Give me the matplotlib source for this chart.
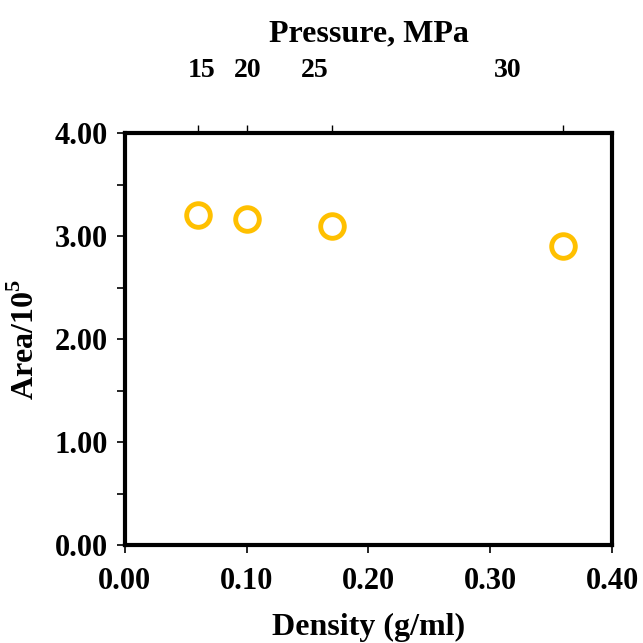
import matplotlib.pyplot as plt

plt.rcParams['font.family'] = ['Liberation Serif', 'DejaVu Serif']
plt.rcParams['font.weight'] = 'bold'
plt.rcParams['mathtext.fontset'] = 'custom'
plt.rcParams['mathtext.bf'] = 'Liberation Serif:bold'
plt.rcParams['mathtext.rm'] = 'Liberation Serif:bold'

# data
density = [0.06, 0.10, 0.17, 0.36]
area = [3.21, 3.17, 3.10, 2.90]
pressure_labels = ['15', '20', '25', '30']
# where the pressure labels sit (Excel put them a bit off the tick marks)
pressure_label_pos = [0.063, 0.101, 0.156, 0.314]

fig = plt.figure(figsize=(6.43, 6.43), dpi=100)
ax = fig.add_axes([0.194, 0.152, 0.758, 0.641])

ax.plot(density, area, linestyle='none', marker='o', markersize=17,
        markerfacecolor='none', markeredgecolor='#FFC000', markeredgewidth=3.5)

ax.set_xlim(0, 0.40)
ax.set_ylim(0, 4.0)
ax.set_xticks([0, 0.1, 0.2, 0.3, 0.4])
ax.set_xticklabels(['0.00', '0.10', '0.20', '0.30', '0.40'])
ax.set_yticks([0, 1, 2, 3, 4])
ax.set_yticklabels(['0.00', '1.00', '2.00', '3.00', '4.00'])
ax.set_yticks([0.5, 1.5, 2.5, 3.5], minor=True)
ax.tick_params(axis='both', which='major', labelsize=22, direction='out',
               length=6, width=1.2, pad=6)
ax.tick_params(axis='y', which='minor', direction='out', length=6, width=1.2)
ax.tick_params(axis='x', pad=10)
for s in ax.spines.values():
    s.set_linewidth(3)

ax.set_xlabel('Density (g/ml)', fontsize=23, fontweight='bold', labelpad=12)
ax.set_ylabel('Area/10$^{5}$', fontsize=23, fontweight='bold', labelpad=10)

# top pressure axis
ax2 = ax.twiny()
ax2.set_xlim(ax.get_xlim())
ax2.set_xticks(pressure_label_pos)
ax2.set_xticklabels(pressure_labels)
ax2.tick_params(axis='x', which='major', length=0, labelsize=20, pad=36)
ax2.set_xticks(density, minor=True)
ax2.tick_params(axis='x', which='minor', direction='out', length=6, width=1)
ax2.set_xlabel('Pressure, MPa', fontsize=23, fontweight='bold', labelpad=12)

fig.savefig('out.png', dpi=100)
